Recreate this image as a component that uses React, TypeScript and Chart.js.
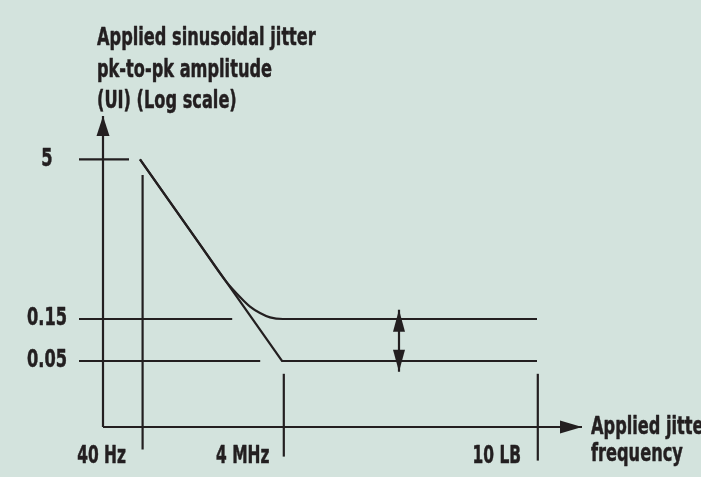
import React, { useEffect, useRef } from 'react';
import { Chart, registerables } from 'chart.js';

Chart.register(...registerables);

// ---- Data (schematic units: both axes are drawn as log scales, not to scale) ----
const freqLabels = ['40 Hz', '4 MHz', '10 LB'];
const freqPos = [0.99, 4.52, 10.87];
const freqTickTop = [6.3, 1.33, 1.33];
const freqTickBottom = [-0.56, -0.74, -0.84];

const ampLabels = ['5', '0.15', '0.05'];
const ampPos = [6.69, 2.7, 1.65];
const ampLineStart = -0.6;
const ampLineEnd = [0.65, 3.23, 3.93];

const xAxisEnd = 11.975;
const yAxisEnd = 7.775;

// straight mask edge: 5 UI at 40 Hz falling to 0.05 UI at 4 MHz, then flat to 10 LB
const lowerMaskX = [0.925, 4.475, 10.85];
const lowerMaskY = [6.69, 1.65, 1.65];

// rounded mask edge settling at 0.15 UI
const upperMaskX = [0.925, 2.425, 3.075, 3.425, 3.675, 3.925, 4.175, 4.5, 10.85];
const upperMaskY = [6.69, 4.56, 3.64, 3.25, 3.01, 2.85, 2.74, 2.7, 2.7];

// double arrow between the two flat levels
const spanArrowX = 7.4;
const spanArrowY = [2.93, 1.38];

const yTitleLines = ['Applied sinusoidal jitter', 'pk-to-pk amplitude', '(UI) (Log scale)'];
const xTitleLines = ['Applied jitter', 'frequency'];

const ink = '#231f20';
const bg = '#d3e3dd';
const fontFamily = '"DejaVu Sans Condensed", "DejaVu Sans", sans-serif';

type Pt = { x: number; y: number };
const zipPts = (xs: number[], ys: number[]): Pt[] => xs.map((x, i) => ({ x, y: ys[i] }));

function lineDs(data: Pt[], extra: Record<string, unknown> = {}) {
  return {
    data,
    borderColor: ink,
    borderWidth: 2.2,
    pointRadius: 0,
    pointHoverRadius: 0,
    fill: false,
    tension: 0,
    clip: false as const,
    ...extra,
  };
}

const arrowPlugin = {
  id: 'arrowHeads',
  afterDatasetsDraw(chart: any) {
    const { ctx } = chart;
    chart.data.datasets.forEach((ds: any, i: number) => {
      if (!ds.arrow) return;
      const pts = chart.getDatasetMeta(i).data;
      if (pts.length < 2) return;
      const draw = (tip: any, from: any) => {
        const dx = tip.x - from.x;
        const dy = tip.y - from.y;
        const len = Math.hypot(dx, dy) || 1;
        const ux = dx / len;
        const uy = dy / len;
        const bx = tip.x - ux * ds.arrow.length;
        const by = tip.y - uy * ds.arrow.length;
        const hw = ds.arrow.width / 2;
        ctx.beginPath();
        ctx.moveTo(tip.x, tip.y);
        ctx.lineTo(bx - uy * hw, by + ux * hw);
        ctx.lineTo(bx + uy * hw, by - ux * hw);
        ctx.closePath();
        ctx.fill();
      };
      ctx.save();
      ctx.fillStyle = ink;
      if (ds.arrow.end) draw(pts[pts.length - 1], pts[pts.length - 2]);
      if (ds.arrow.start) draw(pts[0], pts[1]);
      ctx.restore();
    });
  },
};

const bgPlugin = {
  id: 'bgFill',
  beforeDraw(chart: any) {
    const { ctx, width, height } = chart;
    ctx.save();
    ctx.fillStyle = bg;
    ctx.fillRect(0, 0, width, height);
    ctx.restore();
  },
};

// draws condensed, heavy text (horizontal squeeze) to mimic the narrow black face of the original
function condensedText(ctx: CanvasRenderingContext2D, t: string, x: number, y: number, k: number) {
  ctx.save();
  ctx.translate(x, y);
  ctx.scale(k, 1);
  ctx.fillText(t, 0, 0);
  ctx.strokeText(t, 0, 0);
  ctx.restore();
}

const labelPlugin = {
  id: 'schematicLabels',
  afterDraw(chart: any) {
    const { ctx, chartArea } = chart;
    const xs = chart.scales.x;
    const ys = chart.scales.y;
    ctx.save();
    ctx.fillStyle = ink;
    ctx.strokeStyle = ink;
    ctx.lineWidth = 0.5;
    ctx.lineJoin = 'round';
    ctx.font = `bold 24px ${fontFamily}`;
    ctx.textAlign = 'center';
    ctx.textBaseline = 'middle';
    ampLabels.forEach((t, i) =>
      condensedText(ctx, t, chartArea.left - 56, ys.getPixelForValue(ampPos[i]), 0.75)
    );
    freqLabels.forEach((t, i) =>
      condensedText(ctx, t, xs.getPixelForValue(freqPos[i]) - 41, chartArea.bottom + 30, 0.715)
    );
    ctx.font = `bold 25px ${fontFamily}`;
    ctx.textAlign = 'left';
    ctx.textBaseline = 'alphabetic';
    yTitleLines.forEach((t, i) =>
      condensedText(ctx, t, chartArea.left - 6, chartArea.top - 70 + i * 31.5, 0.72)
    );
    xTitleLines.forEach((t, i) =>
      condensedText(ctx, t, chartArea.right + 8, chartArea.bottom + 7 + i * 27, 0.72)
    );
    ctx.restore();
  },
};

export default function App() {
  const ref = useRef<HTMLCanvasElement | null>(null);

  useEffect(() => {
    if (!ref.current) return;
    const datasets: any[] = [];
    // axes
    datasets.push(lineDs([{ x: 0, y: 0 }, { x: 0, y: yAxisEnd }], { arrow: { end: true, length: 20, width: 13 } }));
    datasets.push(lineDs([{ x: 0, y: 0 }, { x: xAxisEnd, y: 0 }], { arrow: { end: true, length: 22, width: 13 } }));
    // amplitude reference lines
    ampPos.forEach((v, i) =>
      datasets.push(lineDs([{ x: ampLineStart, y: v }, { x: ampLineEnd[i], y: v }]))
    );
    // frequency marker lines
    freqPos.forEach((v, i) =>
      datasets.push(lineDs([{ x: v, y: freqTickBottom[i] }, { x: v, y: freqTickTop[i] }]))
    );
    // mask edges
    datasets.push(lineDs(zipPts(lowerMaskX, lowerMaskY)));
    datasets.push(lineDs(zipPts(upperMaskX, upperMaskY), { cubicInterpolationMode: 'monotone' }));
    // span arrow
    datasets.push(
      lineDs(
        [
          { x: spanArrowX, y: spanArrowY[0] },
          { x: spanArrowX, y: spanArrowY[1] },
        ],
        { arrow: { start: true, end: true, length: 22, width: 12 } }
      )
    );

    const chart = new Chart(ref.current, {
      type: 'line',
      data: { datasets },
      options: {
        animation: false,
        responsive: false,
        maintainAspectRatio: false,
        events: [],
        layout: { padding: { left: 103, right: 118, top: 115, bottom: 50 } },
        scales: {
          x: { type: 'linear', min: 0, max: 12, display: false },
          y: { type: 'linear', min: 0, max: 7.8, display: false },
        },
        plugins: { legend: { display: false }, tooltip: { enabled: false }, title: { display: false } },
      },
      plugins: [bgPlugin, arrowPlugin, labelPlugin],
    } as any);
    return () => chart.destroy();
  }, []);

  return (
    <div style={{ position: 'absolute', left: 0, top: 0, width: 701, height: 477, background: bg }}>
      <canvas ref={ref} width={701} height={477} style={{ display: 'block' }} />
    </div>
  );
}
